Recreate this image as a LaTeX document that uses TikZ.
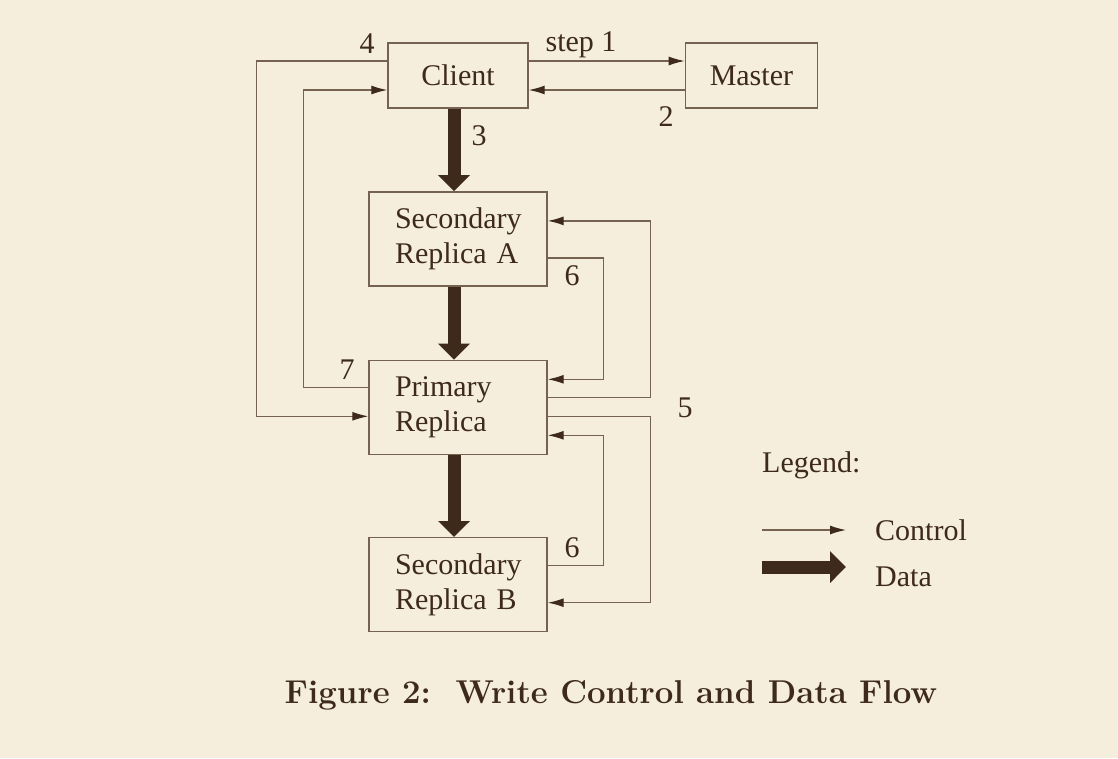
\documentclass[tikz,border=0pt]{standalone}
\usepackage{fontspec}
\usepackage{tikz}
\usetikzlibrary{arrows.meta, positioning}
\newfontfamily\figfont{Liberation Serif}
\definecolor{paper}{HTML}{F5EEDC}
\definecolor{ink}{HTML}{3E2A1A}
\definecolor{rule}{HTML}{756250}
\tikzstyle{box} = [rectangle, draw=rule, line width=1.4pt, text=ink, font=\figfont\fontsize{30}{35}\selectfont, inner sep=0pt]
\tikzstyle{replica} = [box, minimum width=178pt, minimum height=94pt, text width=126pt, align=left]
\tikzstyle{ctrlarrow} = [draw=rule, line width=1.3pt, -{Latex[length=16pt,width=9pt,color=ink]}]
\tikzstyle{dataarrow} = [draw=ink, line width=13pt, -{Triangle[length=16pt,width=31pt]}, ink]
\tikzstyle{lbl} = [text=ink, font=\figfont\fontsize{30}{35}\selectfont, inner sep=0pt]

\begin{document}
\begin{tikzpicture}[x=1pt, y=-1pt]

\fill[paper] (0,0) rectangle (1118,758);
\useasboundingbox (0,0) rectangle (1118,758);

\node (client) [box, minimum width=140pt, minimum height=65pt] at (458,75.5) {Client};
\node (master) [box, minimum width=132pt, minimum height=65pt, right=156pt of client] {Master};
\node (secA) [replica, below=82.5pt of client] {Secondary\\Replica A};
\node (primary) [replica, below=73pt of secA] {Primary\\Replica};
\node (secB) [replica, below=82pt of primary] {Secondary\\Replica B};

\draw [ctrlarrow] ([yshift=14.5pt]client.east) -- ([yshift=14.5pt]master.west);
\draw [ctrlarrow] ([yshift=-14.5pt]master.west) -- ([yshift=-14.5pt]client.east);
\draw [ctrlarrow] ([yshift=14.5pt]client.west) -- ++(-131pt,0) |- ([yshift=-9pt]primary.west);
\draw [ctrlarrow] ([yshift=20pt]primary.west) -- ++(-65pt,0) |- ([yshift=-14.5pt]client.west);
\draw [ctrlarrow] ([yshift=-19pt]secA.east) -- ++(56pt,0) |- ([yshift=28pt]primary.east);
\draw [ctrlarrow] ([yshift=9.5pt]primary.east) -- ++(103pt,0) |- ([yshift=18pt]secA.east);
\draw [ctrlarrow] ([yshift=-9pt]primary.east) -- ++(103pt,0) |- ([yshift=-18pt]secB.east);
\draw [ctrlarrow] ([yshift=19pt]secB.east) -- ++(56pt,0) |- ([yshift=-28pt]primary.east);

\draw [dataarrow] ([xshift=-4pt]client.south) -- ([xshift=-4pt]secA.north);
\draw [dataarrow] ([xshift=-4pt]secA.south) -- ([xshift=-4pt]primary.north);
\draw [dataarrow] ([xshift=-4pt]primary.south) -- ([xshift=-4pt]secB.north);

\node (step1) [lbl] at (581,45) {step 1};
\node (n2) [lbl] at (666,117) {2};
\node (n3) [lbl] at (479,136) {3};
\node (n4) [lbl] at (367,44) {4};
\node (n5) [lbl] at (685,408) {5};
\node (n6a) [lbl] at (572,276) {6};
\node (n6b) [lbl] at (572,548) {6};
\node (n7) [lbl] at (347,370) {7};

\node (legend) [lbl, anchor=west] at (762,465) {Legend:};
\coordinate (ctrlA) at (762,530);
\coordinate (ctrlB) at (846,530);
\coordinate (dataA) at (762,567);
\coordinate (dataB) at (846,567);
\draw [ctrlarrow] (ctrlA) -- (ctrlB);
\draw [dataarrow] (dataA) -- (dataB);
\node (ctrltext) [lbl, anchor=west] at (875,530) {Control};
\node (datatext) [lbl, anchor=west] at (875,577) {Data};

\node (caption) [text=ink, font=\bfseries\fontsize{33}{38}\selectfont, inner sep=0pt] at (611,695) {Figure 2:\ \ Write Control and Data Flow};

\end{tikzpicture}
\end{document}
